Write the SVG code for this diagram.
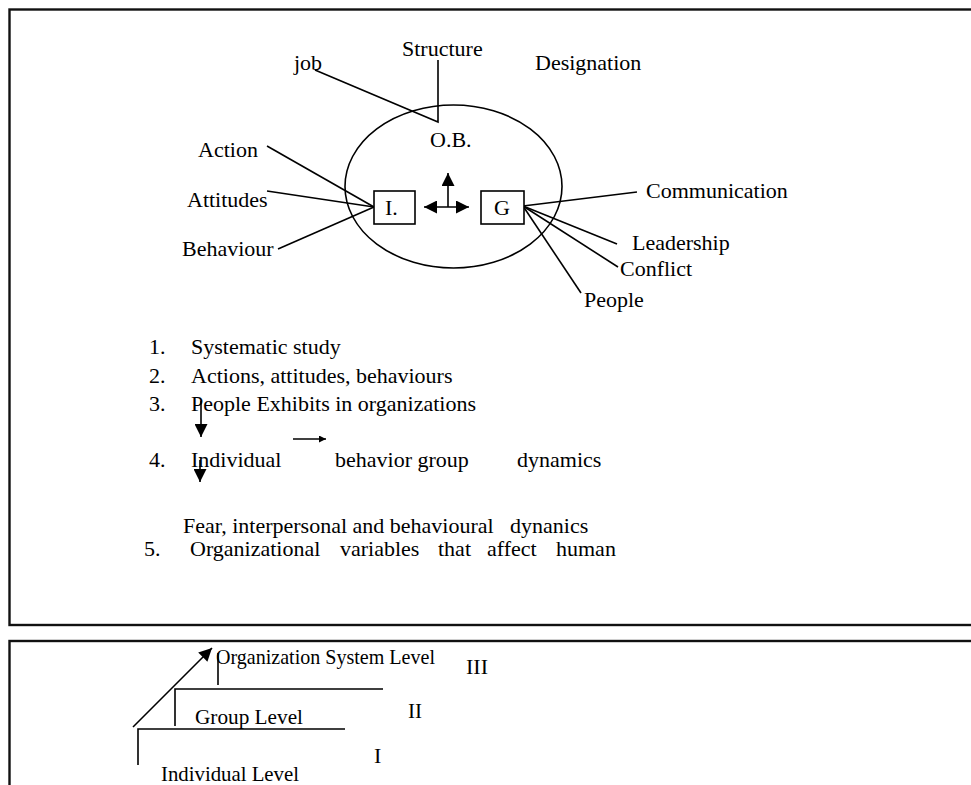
<svg xmlns="http://www.w3.org/2000/svg" width="971" height="785" viewBox="0 0 971 785">
  <style>
    text { font-family: "Liberation Serif", "Times New Roman", serif; font-size: 22px; fill: #000; }
    .lvl { font-size: 22px; }
    .frame { fill: none; stroke: #111; stroke-width: 2.4; }
    .ln { fill: none; stroke: #000; stroke-width: 1.6; }
    .box { fill: #fff; stroke: #000; stroke-width: 1.6; }
  </style>
  <defs>
    <marker id="head" viewBox="0 0 10 10" refX="10" refY="5" markerWidth="15" markerHeight="13" markerUnits="userSpaceOnUse" orient="auto-start-reverse">
      <path d="M0,0 L10,5 L0,10 z" fill="#000"/>
    </marker>
    <marker id="headSmall" viewBox="0 0 10 10" refX="10" refY="5" markerWidth="13" markerHeight="7" markerUnits="userSpaceOnUse" orient="auto">
      <path d="M0,0 L10,5 L0,10 z" fill="#000"/>
    </marker>
  </defs>

  <rect id="white" width="971" height="785" fill="#fff"/>

  <!-- outer frames -->
  <rect class="frame" x="9.5" y="9.5" width="1000" height="615.5"/>
  <rect class="frame" x="9.5" y="641" width="1000" height="200"/>

  <!-- connectors -->
  <g id="connectors">
    <!-- into O.B. -->
    <polyline class="ln" points="315,70 438,122 438,60"/>
    <!-- into I. -->
    <line class="ln" x1="267" y1="146" x2="374" y2="207"/>
    <line class="ln" x1="267" y1="191" x2="374" y2="207"/>
    <line class="ln" x1="278" y1="249" x2="374" y2="207"/>
    <!-- out of G -->
    <line class="ln" x1="523" y1="206" x2="637" y2="192"/>
    <line class="ln" x1="523" y1="206" x2="617" y2="244"/>
    <line class="ln" x1="523" y1="206" x2="618" y2="267"/>
    <line class="ln" x1="523" y1="206" x2="581" y2="293"/>
    <!-- I <-> G and upward -->
    <line class="ln" x1="424" y1="207" x2="469" y2="207" marker-start="url(#head)" marker-end="url(#head)"/>
    <line class="ln" x1="448" y1="207" x2="448" y2="173" marker-end="url(#head)"/>
    <!-- list arrows -->
    <line class="ln" x1="201" y1="401" x2="201" y2="437" marker-end="url(#head)"/>
    <line class="ln" x1="200" y1="460" x2="200" y2="482" marker-end="url(#head)"/>
    <line class="ln" x1="293" y1="439" x2="326" y2="439" marker-end="url(#headSmall)"/>
    <!-- level steps -->
    <line class="ln" x1="133" y1="727" x2="212" y2="648" marker-end="url(#head)"/>
  </g>

  <g id="ob">
    <ellipse class="ln" cx="453.5" cy="186.5" rx="108.5" ry="81.5"/>
    <text x="430" y="147">O.B.</text>
  </g>
  <g id="node-i">
    <rect class="box" x="374" y="191" width="41" height="33"/>
    <text x="385" y="215">I.</text>
  </g>
  <g id="node-g">
    <rect class="box" x="481" y="191" width="43" height="33"/>
    <text x="494" y="215">G</text>
  </g>

  <g id="label-structure"><text x="402" y="56">Structure</text></g>
  <g id="label-job"><text x="294" y="70">job</text></g>
  <g id="label-designation"><text x="535" y="70">Designation</text></g>
  <g id="label-action"><text x="198" y="157">Action</text></g>
  <g id="label-attitudes"><text x="187" y="207">Attitudes</text></g>
  <g id="label-behaviour"><text x="182" y="256">Behaviour</text></g>
  <g id="label-communication"><text x="646" y="198">Communication</text></g>
  <g id="label-leadership"><text x="632" y="250">Leadership</text></g>
  <g id="label-conflict"><text x="620" y="276">Conflict</text></g>
  <g id="label-people"><text x="584" y="307">People</text></g>

  <g id="list">
    <text x="149" y="354">1.</text>
    <text x="191" y="354">Systematic study</text>
    <text x="149" y="383">2.</text>
    <text x="191" y="383">Actions, attitudes, behaviours</text>
    <text x="149" y="411">3.</text>
    <text x="191" y="411">People Exhibits in organizations</text>
    <text x="149" y="467">4.</text>
    <text x="191" y="467">Individual</text>
    <text x="335" y="467">behavior  group</text>
    <text x="517" y="467">dynamics</text>
    <text x="183" y="533">Fear, interpersonal and behavioural</text>
    <text x="510" y="533">dynanics</text>
    <text x="144" y="556">5.</text>
    <text x="190" y="556">Organizational</text>
    <text x="340" y="556">variables</text>
    <text x="438" y="556">that</text>
    <text x="487" y="556">affect</text>
    <text x="556" y="556">human</text>
  </g>

  <g id="levels">
    <polyline class="ln" points="218,653 218,685"/>
    <polyline class="ln" points="175,726 175,689 383,689"/>
    <polyline class="ln" points="138,765 138,729 345,729"/>
    <text class="lvl" x="216" y="664" textLength="219" lengthAdjust="spacingAndGlyphs">Organization  System  Level</text>
    <text class="lvl" x="466" y="674" textLength="22" lengthAdjust="spacingAndGlyphs">III</text>
    <text class="lvl" x="195" y="724" textLength="108" lengthAdjust="spacingAndGlyphs">Group   Level</text>
    <text class="lvl" x="408" y="718" textLength="14" lengthAdjust="spacingAndGlyphs">II</text>
    <text class="lvl" x="374" y="763">I</text>
    <text class="lvl" x="161" y="781" textLength="138" lengthAdjust="spacingAndGlyphs">Individual  Level</text>
  </g>
</svg>
